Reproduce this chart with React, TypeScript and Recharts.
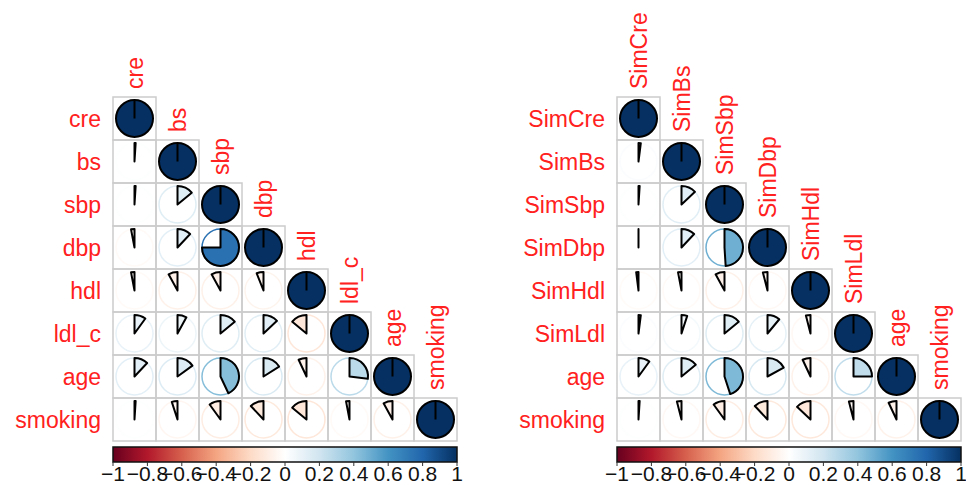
import { ScatterChart, Scatter, XAxis, YAxis, ComposedChart, ReferenceArea, Line } from "recharts";

const leftVars = ["cre", "bs", "sbp", "dbp", "hdl", "ldl_c", "age", "smoking"];
const rightVars = ["SimCre", "SimBs", "SimSbp", "SimDbp", "SimHdl", "SimLdl", "age", "smoking"];

// lower triangle, row by row, diagonal left out (it is 1)
const leftCorr = [
  [],
  [0.01],
  [0.01, 0.14],
  [-0.03, 0.12, 0.75],
  [-0.03, -0.08, -0.08, -0.06],
  [0.1, 0.08, 0.14, 0.13, -0.14],
  [0.12, 0.15, 0.43, 0.16, -0.07, 0.27],
  [0.01, -0.05, -0.1, -0.12, -0.14, -0.03, -0.08],
];

const rightCorr = [
  [],
  [0.02],
  [0.01, 0.13],
  [0.0, 0.12, 0.49],
  [-0.02, -0.03, -0.08, -0.04],
  [0.02, 0.05, 0.14, 0.11, -0.04],
  [0.1, 0.14, 0.45, 0.17, -0.07, 0.25],
  [0.01, -0.04, -0.1, -0.12, -0.13, -0.04, -0.07],
];

const barTicks = [-1, -0.8, -0.6, -0.4, -0.2, 0, 0.2, 0.4, 0.6, 0.8, 1];
const barEnds = [
  { x: -1, y: 0 },
  { x: 1, y: 1 },
];
const idxTicks = [0, 1, 2, 3, 4, 5, 6, 7];

const rdbu = ["#67001F", "#B2182B", "#D6604D", "#F4A582", "#FDDBC7", "#FFFFFF", "#D1E5F0", "#92C5DE", "#4393C3", "#2166AC", "#053061"];

const CELL = 43;
const RAD = 18.5;
const FONT = "'Liberation Sans', Arial, sans-serif";

function hexToRgb(h: string) {
  return [1, 3, 5].map((i) => parseInt(h.slice(i, i + 2), 16));
}

function corrColor(v: number) {
  const t = Math.max(0, Math.min(10, ((v + 1) / 2) * 10));
  const i = Math.min(9, Math.floor(t));
  const f = t - i;
  const a = hexToRgb(rdbu[i]);
  const b = hexToRgb(rdbu[i + 1]);
  const c = a.map((x, k) => Math.round(x + (b[k] - x) * f));
  return `rgb(${c[0]},${c[1]},${c[2]})`;
}

function toPoints(corr: number[][]) {
  const pts: { x: number; y: number; v: number }[] = [];
  corr.forEach((row, i) => {
    row.forEach((v, j) => pts.push({ x: j, y: i, v }));
    pts.push({ x: i, y: i, v: 1 });
  });
  return pts;
}

const PieCell = (props: any) => {
  const { cx, cy, payload, names } = props;
  const v: number = payload.v;
  const col = corrColor(v);
  const diag = payload.x === payload.y;
  let pie;
  if (Math.abs(v) >= 0.999) {
    pie = (
      <g>
        <circle cx={cx} cy={cy} r={RAD} fill={col} stroke="#000" strokeWidth={2} />
        <line x1={cx} y1={cy} x2={cx} y2={cy - RAD} stroke="#000" strokeWidth={2} />
      </g>
    );
  } else {
    const th = Math.abs(v) * 2 * Math.PI;
    const sign = v >= 0 ? 1 : -1;
    const ex = cx + sign * RAD * Math.sin(th);
    const ey = cy - RAD * Math.cos(th);
    const large = th > Math.PI ? 1 : 0;
    const sweep = v >= 0 ? 1 : 0;
    const d = `M${cx},${cy} L${cx},${cy - RAD} A${RAD},${RAD} 0 ${large} ${sweep} ${ex},${ey} Z`;
    pie = (
      <g>
        <circle cx={cx} cy={cy} r={RAD} fill="none" stroke={col} strokeWidth={1.5} />
        <path d={d} fill={col} stroke="#000" strokeWidth={2} strokeLinejoin="round" />
      </g>
    );
  }
  const ly = cy - CELL / 2 - 8;
  return (
    <g>
      <rect x={cx - CELL / 2} y={cy - CELL / 2} width={CELL} height={CELL} fill="none" stroke="#cccccc" strokeWidth={1.5} />
      {pie}
      {diag && (
        <text
          x={cx}
          y={ly}
          dy="0.35em"
          transform={`rotate(-90 ${cx} ${ly})`}
          textAnchor="start"
          fill="#ff2020"
          fontSize={23}
          fontFamily={FONT}
        >
          {names[payload.x]}
        </text>
      )}
    </g>
  );
};

const Panel = ({ left, names, corr, axisW, gradId }: any) => {
  const data = toPoints(corr);
  const w = axisW + CELL * 8 + 3;
  return (
    <>
      <div style={{ position: "absolute", left, top: 0 }}>
        <ScatterChart width={w} height={450} margin={{ top: 97, right: 3, bottom: 9, left: 0 }}>
          <XAxis type="number" dataKey="x" domain={[-0.5, 7.5]} hide />
          <YAxis
            type="number"
            dataKey="y"
            domain={[-0.5, 7.5]}
            reversed
            ticks={idxTicks}
            interval={0}
            width={axisW}
            tickSize={0}
            tickMargin={12}
            tickLine={false}
            axisLine={false}
            tickFormatter={(i: number) => names[i]}
            tick={{ fill: "#ff2020", fontSize: 23, fontFamily: FONT }}
          />
          <Scatter
            data={data}
            isAnimationActive={false}
            shape={(p: any) => <PieCell {...p} names={names} />}
          />
        </ScatterChart>
      </div>
      <div style={{ position: "absolute", left, top: 440 }}>
        <ComposedChart
          width={w + 8}
          height={46}
          data={barEnds}
          margin={{ top: 7, right: 11, bottom: 0, left: axisW }}
        >
          <defs>
            <linearGradient id={gradId} x1="0" y1="0" x2="1" y2="0">
              {rdbu.map((c, i) => (
                <stop key={i} offset={`${i * 10}%`} stopColor={c} />
              ))}
            </linearGradient>
          </defs>
          <XAxis
            type="number"
            dataKey="x"
            domain={[-1, 1]}
            ticks={barTicks}
            interval={0}
            height={24}
            tickSize={4}
            tickMargin={0}
            axisLine={false}
            tickLine={{ stroke: "#333" }}
            tickFormatter={(v: number) => String(v).replace("-", "\u2212")}
            tick={{ fill: "#111", fontSize: 21, fontFamily: FONT }}
          />
          <YAxis type="number" dataKey="y" domain={[0, 1]} hide />
          <Line dataKey="y" stroke="none" dot={false} isAnimationActive={false} />
          <ReferenceArea
            x1={-1}
            x2={1}
            y1={0}
            y2={1}
            fill={`url(#${gradId})`}
            fillOpacity={1}
            stroke="#111"
            strokeWidth={1.5}
          />
        </ComposedChart>
      </div>
    </>
  );
};

export default function App() {
  return (
    <div style={{ position: "absolute", left: 0, top: 0, width: 966, height: 486, background: "#fff", overflow: "hidden" }}>
      <Panel left={0} names={leftVars} corr={leftCorr} axisW={113} gradId="cbLeft" />
      <Panel left={498} names={rightVars} corr={rightCorr} axisW={119} gradId="cbRight" />
    </div>
  );
}
